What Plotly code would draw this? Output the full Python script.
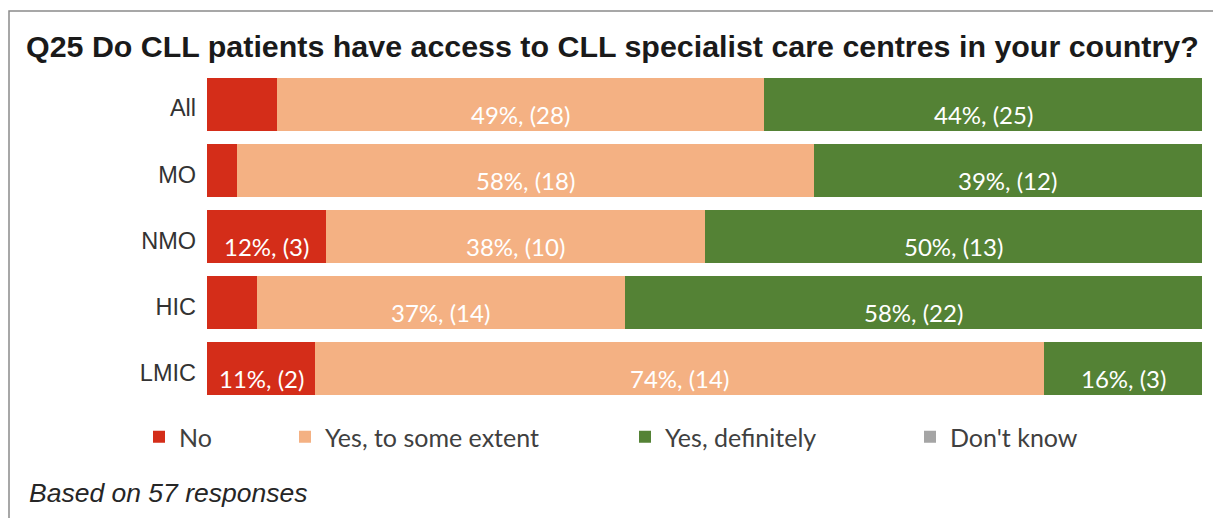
import plotly.graph_objects as go

# Survey results: Q25 access to CLL specialist care centres
groups = ["All", "MO", "NMO", "HIC", "LMIC"]
series_names = ["No", "Yes, to some extent", "Yes, definitely", "Don't know"]
pct_no = [7, 3, 12, 5, 11]
pct_some = [49, 58, 38, 37, 74]
pct_def = [44, 39, 50, 58, 16]
pct_dk = [0, 0, 0, 0, 0]
n_no = [4, 1, 3, 2, 2]
n_some = [28, 18, 10, 14, 14]
n_def = [25, 12, 13, 22, 3]
n_dk = [0, 0, 0, 0, 0]
colors = ["#D42D19", "#F4B183", "#548235", "#A5A5A5"]
footer_text = "Based on 57 responses"
title_text = "Q25 Do CLL patients have access to CLL specialist care centres in your country?"

pcts = [pct_no, pct_some, pct_def, pct_dk]
counts = [n_no, n_some, n_def, n_dk]

W, H = 1213, 518
L, R, T, B = 207, 11, 71, 116
PW, PH = W - L - R, H - T - B


def px_x(p):
    return (p - L) / PW


def px_y(p):
    return (H - B - p) / PH


label_font = "Lato, 'Open Sans', sans-serif"
axis_font = "'Liberation Sans', Arial, sans-serif"

fig = go.Figure()
legend_ids = ["legend", "legend2", "legend3", "legend4"]
legend_text_x = [179, 325, 665, 950]
for i, name in enumerate(series_names):
    fig.add_trace(go.Bar(
        y=groups, x=pcts[i], name=name, orientation="h",
        marker=dict(color=colors[i], line=dict(width=0)),
        legend=legend_ids[i], hoverinfo="skip",
    ))

# Value labels, placed in the middle of each segment (bars normalised to 100%)
annotations = []
for g_idx, g in enumerate(groups):
    total = sum(p[g_idx] for p in pcts)
    cum = 0.0
    for s_idx in range(len(series_names)):
        v = pcts[s_idx][g_idx]
        share = 100.0 * v / total
        mid = cum + share / 2
        cum += share
        if v >= 10:
            annotations.append(dict(
                x=mid, y=g, xref="x", yref="y",
                text=f"{v}%, ({counts[s_idx][g_idx]})",
                showarrow=False, yshift=-10,
                font=dict(family=label_font, size=24, color="white"),
            ))

annotations.append(dict(
    x=px_x(27), y=px_y(493), xref="paper", yref="paper",
    xanchor="left", yanchor="middle", showarrow=False,
    text=footer_text,
    font=dict(family=axis_font, size=26.5, color="#262626", style="italic"),
))

layout_legends = {}
for i, lid in enumerate(legend_ids):
    layout_legends[lid] = dict(
        x=px_x(legend_text_x[i] - 40), y=px_y(437),
        xanchor="left", yanchor="middle", orientation="h",
        bgcolor="rgba(0,0,0,0)", borderwidth=0,
        font=dict(family=label_font, size=25, color="#404040"),
        itemclick=False, itemdoubleclick=False,
    )

fig.update_layout(
    width=W, height=H,
    margin=dict(l=L, r=R, t=T, b=B, pad=0),
    paper_bgcolor="white", plot_bgcolor="white",
    barmode="stack", barnorm="percent", bargap=0.2,
    showlegend=True,
    title=dict(
        text=f"<b>{title_text}</b>",
        x=26 / W, xanchor="left", y=1 - 46 / H, yanchor="middle",
        font=dict(family=axis_font, size=30.4, color="#1a1a1a"),
    ),
    xaxis=dict(range=[0, 100], visible=False, fixedrange=True),
    yaxis=dict(
        autorange="reversed", showgrid=False, zeroline=False, showline=False,
        ticks="", ticklabelstandoff=10, ticklabelshift=-4,
        tickfont=dict(family=axis_font, size=23.5, color="#333333"),
        fixedrange=True,
    ),
    annotations=annotations,
    shapes=[dict(
        type="rect", xref="paper", yref="paper", layer="below",
        x0=px_x(9), x1=px_x(W + 20), y0=px_y(H + 20), y1=px_y(11),
        line=dict(color="#8a8a8a", width=1.5), fillcolor="rgba(0,0,0,0)",
    )],
    **layout_legends,
)

fig.write_html("out.html", config={"displayModeBar": False})
